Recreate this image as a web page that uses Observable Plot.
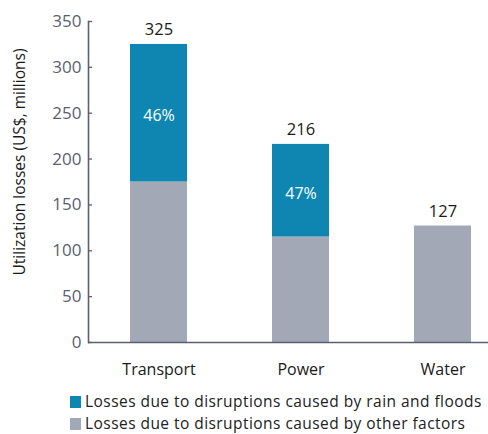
<!DOCTYPE html>
<html>
<head>
<meta charset="utf-8">
<script src="https://cdn.jsdelivr.net/npm/d3@7"></script>
<script src="https://cdn.jsdelivr.net/npm/@observablehq/plot@0.6"></script>
<style>
  html, body { margin: 0; padding: 0; background: #fff; }
  body { width: 488px; height: 434px; overflow: hidden; font-family: "Open Sans", sans-serif; }
  #chart svg { display: block; }
  .legend { position: relative; font-size: 15.5px; letter-spacing: 0.45px; color: #222; white-space: nowrap; }
  .legend .row { height: 21.5px; line-height: 21.5px; padding-left: 70px; }
  .legend .sw { display: inline-block; width: 11px; height: 12px; margin-right: 4px; vertical-align: -1px; }
</style>
</head>
<body>
<div id="chart"></div>
<div class="legend" id="legend"></div>
<script>
const categories = ["Transport", "Power", "Water"];
const rainLosses = [150, 101, 0];
const otherLosses = [175, 115, 127];
const totals = [325, 216, 127];
const shareLabels = ["46%", "47%", ""];
const yTicks = [0, 50, 100, 150, 200, 250, 300, 350];
const seriesKeys = ["other", "rain"];
const seriesColors = ["#a2a8b5", "#0e86b1"];
const legendLabels = [
  "Losses due to disruptions caused by rain and floods",
  "Losses due to disruptions caused by other factors"
];
const yLabel = "Utilization losses (US$, millions)";

const rows = [];
categories.forEach((c, i) => {
  rows.push({category: c, series: "other", value: otherLosses[i]});
  rows.push({category: c, series: "rain", value: rainLosses[i]});
});
const shareRows = categories.map((c, i) => ({category: c, mid: otherLosses[i] + rainLosses[i] / 2, label: shareLabels[i]}));
const totalRows = categories.map((c, i) => ({category: c, total: totals[i]}));

const axisColor = "#5a6072";

const chart = Plot.plot({
  width: 488,
  height: 391,
  marginLeft: 88,
  marginRight: 0,
  marginTop: 21,
  marginBottom: 49,
  style: {fontFamily: "'Open Sans', sans-serif", background: "white"},
  x: {type: "band", domain: categories, range: [88, 513], paddingInner: 0.6, paddingOuter: 0.296, align: 0.5},
  y: {domain: [0, 350]},
  color: {domain: seriesKeys, range: seriesColors},
  marks: [
    Plot.barY(rows, {x: "category", y: "value", fill: "series"}),
    Plot.text(shareRows, {x: "category", y: "mid", text: "label", fill: "white", fontSize: 16, dy: 3}),
    Plot.text(totalRows, {x: "category", y: "total", text: d => String(d.total), fill: "#1a1a1a", fontSize: 16.5, lineAnchor: "bottom", dy: -9}),
    Plot.axisY({ticks: yTicks, tickSize: -4, tickPadding: 11, label: null, fontSize: 17, color: axisColor, stroke: axisColor, strokeWidth: 1.3}),
    Plot.axisX({tickSize: 0, tickPadding: 21, label: null, fontSize: 16, color: "#1a1a1a"}),
    Plot.frame({anchor: "left", stroke: axisColor, strokeWidth: 1.6}),
    Plot.ruleY([0], {stroke: axisColor, strokeWidth: 1.6}),
    Plot.text([yLabel], {frameAnchor: "left", textAnchor: "middle", text: d => d, rotate: -90, dx: -68, dy: -20, fontSize: 15.5, fill: "#1a1a1a"})
  ]
});
document.getElementById("chart").appendChild(chart);

const legend = document.getElementById("legend");
[seriesColors[1], seriesColors[0]].forEach((col, i) => {
  const row = document.createElement("div");
  row.className = "row";
  const sw = document.createElement("span");
  sw.className = "sw";
  sw.style.background = col;
  row.appendChild(sw);
  row.appendChild(document.createTextNode(legendLabels[i]));
  legend.appendChild(row);
});
</script>
</body>
</html>
